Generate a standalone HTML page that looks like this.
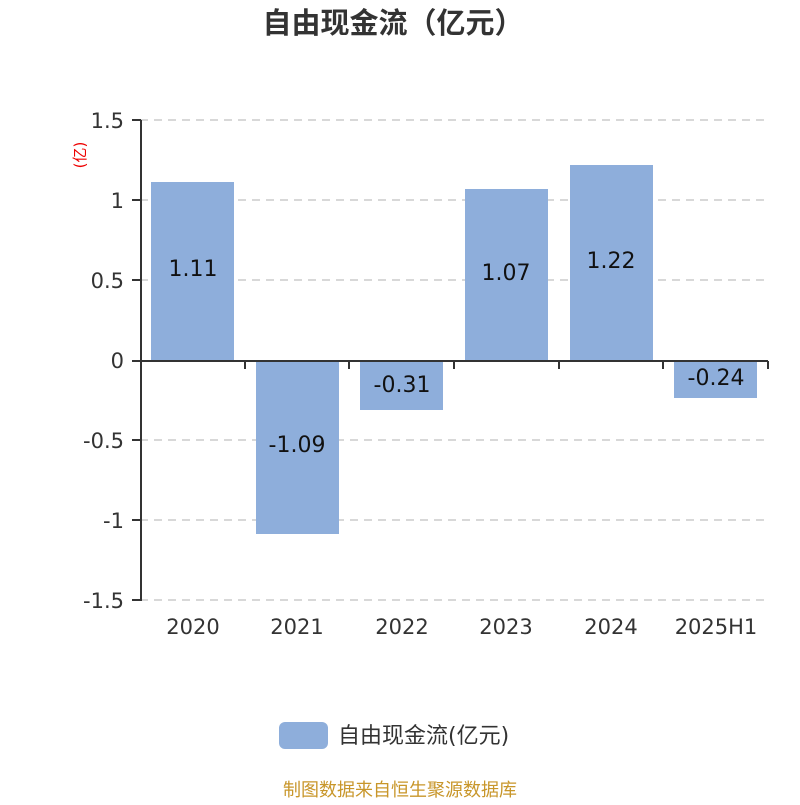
<!DOCTYPE html>
<html><head><meta charset="utf-8"><style>body{margin:0;background:#fff}</style></head><body>
<svg width="800" height="800" xmlns="http://www.w3.org/2000/svg" font-family="DejaVu Sans, Noto Sans CJK SC, sans-serif">
<text x="393" y="33" text-anchor="middle" font-size="29" font-weight="bold" fill="#333" font-family="Noto Sans CJK SC, sans-serif">自由现金流（亿元）</text>
<g stroke="#ccc" stroke-dasharray="8,6" stroke-width="1.5">
<line x1="140" y1="120" x2="768" y2="120"/><line x1="140" y1="200" x2="768" y2="200"/><line x1="140" y1="280" x2="768" y2="280"/>
<line x1="140" y1="440" x2="768" y2="440"/><line x1="140" y1="520" x2="768" y2="520"/><line x1="140" y1="600" x2="768" y2="600"/>
</g>
<g fill="#8eaedb">
<rect x="151" y="182" width="83" height="178"/>
<rect x="256" y="360" width="83" height="174"/>
<rect x="360" y="360" width="83" height="50"/>
<rect x="465" y="189" width="83" height="171"/>
<rect x="570" y="165" width="83" height="195"/>
<rect x="674" y="360" width="83" height="38"/>
</g>
<g stroke="#333" stroke-width="2">
<line x1="141" y1="120" x2="141" y2="601"/>
<line x1="140" y1="361" x2="768" y2="361"/>
<line x1="132" y1="120" x2="141" y2="120"/><line x1="132" y1="200" x2="141" y2="200"/><line x1="132" y1="280" x2="141" y2="280"/><line x1="132" y1="361" x2="141" y2="361"/><line x1="132" y1="440" x2="141" y2="440"/><line x1="132" y1="520" x2="141" y2="520"/><line x1="132" y1="600" x2="141" y2="600"/>
<line x1="245" y1="361" x2="245" y2="369"/><line x1="349" y1="361" x2="349" y2="369"/><line x1="454" y1="361" x2="454" y2="369"/><line x1="559" y1="361" x2="559" y2="369"/><line x1="663" y1="361" x2="663" y2="369"/><line x1="768" y1="361" x2="768" y2="369"/>
</g>
<g font-size="21" fill="#333" text-anchor="end">
<text x="124" y="128">1.5</text><text x="124" y="208">1</text><text x="124" y="288">0.5</text><text x="124" y="368">0</text><text x="124" y="448">-0.5</text><text x="124" y="528">-1</text><text x="124" y="608">-1.5</text>
</g>
<g font-size="21" fill="#333" text-anchor="middle">
<text x="193" y="634">2020</text><text x="297" y="634">2021</text><text x="402" y="634">2022</text><text x="506" y="634">2023</text><text x="611" y="634">2024</text><text x="716" y="634">2025H1</text>
</g>
<g font-size="22" fill="#111" text-anchor="middle">
<text x="193" y="276">1.11</text><text x="297" y="452">-1.09</text><text x="402" y="392">-0.31</text><text x="506" y="280">1.07</text><text x="611" y="268">1.22</text><text x="716" y="385">-0.24</text>
</g>
<text transform="translate(85,155) rotate(-90)" text-anchor="middle" font-size="15" fill="#e00">(亿)</text>
<rect x="279" y="722" width="49" height="27" rx="6" fill="#8eaedb"/>
<text x="338" y="743" font-size="22" fill="#333">自由现金流(亿元)</text>
<text x="400" y="796" text-anchor="middle" font-size="18" fill="#c8962a">制图数据来自恒生聚源数据库</text>
</svg>
</body></html>
